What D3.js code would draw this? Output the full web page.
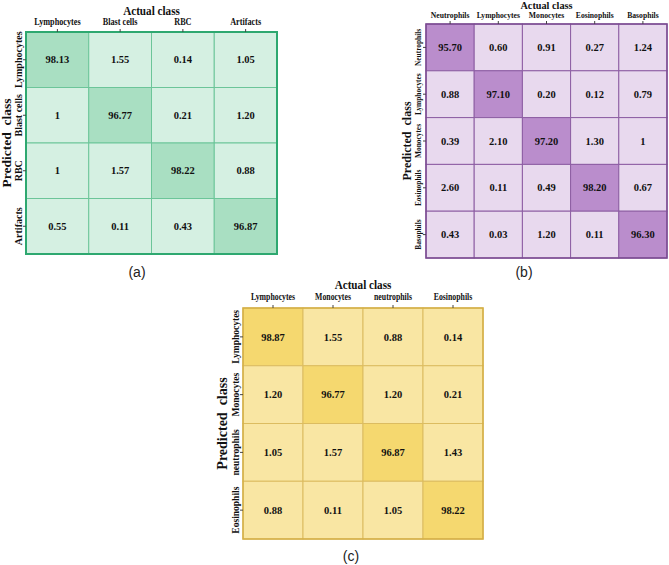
<!DOCTYPE html>
<html>
<head>
<meta charset="utf-8">
<script src="https://cdn.jsdelivr.net/npm/d3@7"></script>
<style>
    body { margin: 0; background: #fff; }
    svg { display: block; font-family: "Liberation Serif", "Times New Roman", serif; }
</style>
</head>
<body>
<div id="chart"></div>
<script>

// panel (a)
const classesA = ["Lymphocytes", "Blast cells", "RBC", "Artifacts"];
const valuesA = [
    ["98.13", "1.55", "0.14", "1.05"],
    ["1", "96.77", "0.21", "1.20"],
    ["1", "1.57", "98.22", "0.88"],
    ["0.55", "0.11", "0.43", "96.87"]
];

// panel (b)
const classesB = ["Neutrophils", "Lymphocytes", "Monocytes", "Eosinophils", "Basophils"];
const valuesB = [
    ["95.70", "0.60", "0.91", "0.27", "1.24"],
    ["0.88", "97.10", "0.20", "0.12", "0.79"],
    ["0.39", "2.10", "97.20", "1.30", "1"],
    ["2.60", "0.11", "0.49", "98.20", "0.67"],
    ["0.43", "0.03", "1.20", "0.11", "96.30"]
];

// panel (c)
const classesC = ["Lymphocytes", "Monocytes", "neutrophils", "Eosinophils"];
const valuesC = [
    ["98.87", "1.55", "0.88", "0.14"],
    ["1.20", "96.77", "1.20", "0.21"],
    ["1.05", "1.57", "96.87", "1.43"],
    ["0.88", "0.11", "1.05", "98.22"]
];

const panelLabels = ["(a)", "(b)", "(c)"];

let svg = d3.select("#chart").append("svg")
    .attr("width", 669)
    .attr("height", 565);

// squeeze text horizontally, the source figure uses a condensed serif
function squeeze(sel, k) {
    if (k === 1) return;
    sel.each(function () {
        let w = this.getComputedTextLength();
        d3.select(this)
            .attr("textLength", w * k)
            .attr("lengthAdjust", "spacingAndGlyphs");
    });
}

function drawMatrix(cfg, classes, values, tag) {
    let g = svg.append("g");

    let x = d3.scaleBand().domain(classes).range([cfg.x0, cfg.x1]);
    let y = d3.scaleBand().domain(classes).range([cfg.y0, cfg.y1]);

    let color = d3.scaleThreshold()
        .domain([50])
        .range([cfg.light, cfg.dark]);

    let cells = [];
    values.forEach((row, i) => {
        row.forEach((v, j) => cells.push({row: classes[i], col: classes[j], text: v, value: +v}));
    });

    g.selectAll("rect.cell")
        .data(cells)
        .enter()
        .append("rect")
        .attr("class", "cell")
        .attr("x", d => x(d.col))
        .attr("y", d => y(d.row))
        .attr("width", x.bandwidth())
        .attr("height", y.bandwidth())
        .attr("fill", d => color(d.value))
        .attr("stroke", cfg.grid)
        .attr("stroke-width", 1);

    // outer frame
    g.append("rect")
        .attr("x", cfg.x0)
        .attr("y", cfg.y0)
        .attr("width", cfg.x1 - cfg.x0)
        .attr("height", cfg.y1 - cfg.y0)
        .attr("fill", "none")
        .attr("stroke", cfg.border)
        .attr("stroke-width", cfg.borderWidth);

    g.selectAll("text.val")
        .data(cells)
        .enter()
        .append("text")
        .attr("class", "val")
        .attr("x", d => x(d.col) + x.bandwidth() / 2)
        .attr("y", d => y(d.row) + y.bandwidth() / 2)
        .attr("dy", "0.35em")
        .attr("text-anchor", "middle")
        .attr("font-size", cfg.numSize)
        .attr("font-weight", "bold")
        .attr("fill", "#111")
        .text(d => d.text);

    // column axis
    let xAxisGroup = g.append("g")
        .attr("transform", `translate(0,${cfg.y0})`)
        .call(d3.axisTop(x).tickSize(3).tickPadding(cfg.colPad));
    xAxisGroup.select(".domain").remove();
    xAxisGroup.attr("font-family", null).attr("font-size", null).style("color", "#444");
    xAxisGroup.selectAll("text")
        .attr("font-size", cfg.colSize)
        .attr("font-weight", "bold")
        .attr("fill", "#111")
        .call(squeeze, cfg.colSqueeze);

    // row axis, labels rotated
    let yAxisGroup = g.append("g")
        .attr("transform", `translate(${cfg.x0},0)`)
        .call(d3.axisLeft(y).tickSize(3));
    yAxisGroup.select(".domain").remove();
    yAxisGroup.attr("font-family", null).attr("font-size", null).style("color", "#444");
    yAxisGroup.selectAll("text")
        .attr("transform", "rotate(-90)")
        .attr("x", 0)
        .attr("y", -cfg.rowPad)
        .attr("dy", 0)
        .attr("text-anchor", "middle")
        .attr("font-size", cfg.rowSize)
        .attr("font-weight", "bold")
        .attr("fill", "#111")
        .call(squeeze, cfg.rowSqueeze);

    // titles
    g.append("text")
        .attr("x", (cfg.x0 + cfg.x1) / 2)
        .attr("y", cfg.y0 - cfg.titleGap)
        .attr("text-anchor", "middle")
        .attr("font-size", cfg.titleSize)
        .attr("font-weight", "bold")
        .attr("fill", "#111")
        .text("Actual class")
        .call(squeeze, 0.93);

    g.append("text")
        .attr("transform", `translate(${cfg.x0 - cfg.predGap},${(cfg.y0 + cfg.y1) / 2}) rotate(-90)`)
        .attr("text-anchor", "middle")
        .attr("font-size", cfg.predSize)
        .attr("font-weight", "bold")
        .attr("fill", "#111")
        .style("white-space", "pre")
        .text("Predicted  class");

    g.append("text")
        .attr("x", cfg.tagX)
        .attr("y", cfg.tagY)
        .attr("text-anchor", "middle")
        .attr("font-family", "'Liberation Sans', Arial, sans-serif")
        .attr("font-size", 14)
        .attr("fill", "#222")
        .text(tag);
}

drawMatrix({
    x0: 26, x1: 277, y0: 32, y1: 254,
    light: "#d5f0e2", dark: "#a9dfc2", grid: "#6cc599", border: "#2ea870", borderWidth: 2,
    numSize: 10.5, colSize: 10, colSqueeze: 0.82, colPad: 4,
    rowSize: 10, rowSqueeze: 1, rowPad: 4,
    titleSize: 12, titleGap: 17, predSize: 13.5, predGap: 15.5,
    tagX: 137, tagY: 277
}, classesA, valuesA, panelLabels[0]);

drawMatrix({
    x0: 426, x1: 667, y0: 24, y1: 258,
    light: "#e8d9ee", dark: "#ba8dcc", grid: "#8d5ea3", border: "#7a4a90", borderWidth: 1.5,
    numSize: 10.5, colSize: 8.5, colSqueeze: 0.9, colPad: 3.5,
    rowSize: 9, rowSqueeze: 0.82, rowPad: 5,
    titleSize: 11, titleGap: 15, predSize: 12, predGap: 15,
    tagX: 524, tagY: 277
}, classesB, valuesB, panelLabels[1]);

drawMatrix({
    x0: 243, x1: 483, y0: 308, y1: 539,
    light: "#f9e6a3", dark: "#f5d86f", grid: "#dcbc60", border: "#d4ae45", borderWidth: 1.5,
    numSize: 10.5, colSize: 9.5, colSqueeze: 0.82, colPad: 5,
    rowSize: 10, rowSqueeze: 0.95, rowPad: 4,
    titleSize: 12, titleGap: 19.5, predSize: 14, predGap: 16,
    tagX: 351, tagY: 561
}, classesC, valuesC, panelLabels[2]);

</script>
</body>
</html>
